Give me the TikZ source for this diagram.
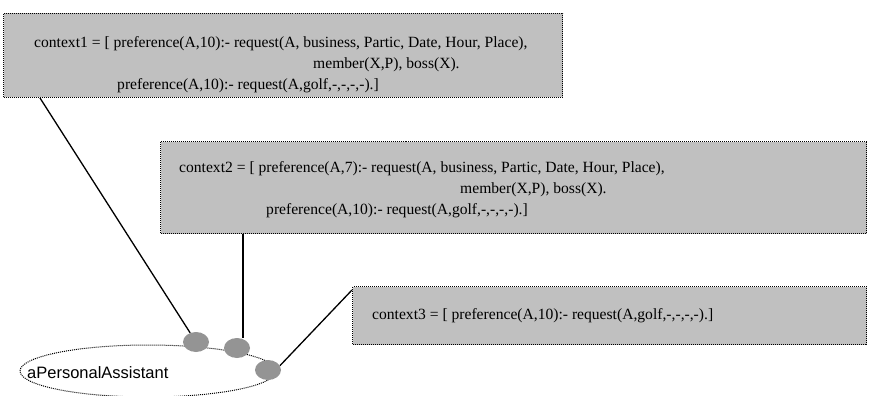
\documentclass[tikz,border=0pt]{standalone}
\usepackage{fontspec}
\setmainfont{Liberation Serif}
\newfontfamily\labelfont{Liberation Sans}
\usetikzlibrary{calc,shapes.geometric}
\definecolor{ctxgray}{RGB}{192,192,192}
\definecolor{dotgray}{RGB}{148,148,148}
\tikzset{
  ctxbox/.style={draw=black, line width=1pt, dash pattern=on 1pt off 1pt, fill=ctxgray, inner sep=0pt, anchor=north west},
  ctxtext/.style={anchor=base west, inner sep=0pt, font=\fontsize{15.6}{21}\selectfont},
  agent/.style={draw=black, line width=1pt, dash pattern=on 1pt off 1pt, ellipse, inner sep=0pt},
  facet/.style={fill=dotgray, ellipse, minimum width=26, minimum height=20, inner sep=0pt},
  link/.style={black, line width=1.3pt},
}

\begin{document}
\begin{tikzpicture}[x=1pt,y=-1pt]
  \useasboundingbox (0,0) rectangle (876,396);
  % context boxes
  \node[ctxbox, minimum width=559, minimum height=84] (ctx1) at (3,13) {};
  \node[ctxtext] (c1a) at (34,48) {context1 = [ preference(A,10):- request(A, business, Partic, Date, Hour, Place),};
  \node[ctxtext] (c1b) at (313,69) {member(X,P), boss(X).};
  \node[ctxtext] (c1c) at (117,90) {preference(A,10):- request(A,golf,-,-,-,-).]};
  \node[ctxbox, minimum width=706, minimum height=92] (ctx2) at (160,141) {};
  \node[ctxtext] (c2a) at (179,172) {context2 = [ preference(A,7):- request(A, business, Partic, Date, Hour, Place),};
  \node[ctxtext] (c2b) at (460,193) {member(X,P), boss(X).};
  \node[ctxtext] (c2c) at (266,214) {preference(A,10):- request(A,golf,-,-,-,-).]};
  \node[ctxbox, minimum width=514, minimum height=58] (ctx3) at (352,286) {};
  \node[ctxtext] (c3a) at (372,319) {context3 = [ preference(A,10):- request(A,golf,-,-,-,-).]};
  % the agent
  \node[agent, minimum width=256, minimum height=52] (pa) at (148,371) {};
  \node[anchor=west, inner sep=0pt, font=\labelfont\fontsize{16.5}{19}\selectfont] (palabel) at (27,373) {aPersonalAssistant};
  \node[facet] (f1) at (196,342) {};
  \node[facet] (f2) at (237,348) {};
  \node[facet] (f3) at (268,370) {};
  % links
  \coordinate (l1) at ($(ctx1.south west)+(37,0)$);
  \coordinate (l2) at ($(ctx2.south west)+(83,0)$);
  \coordinate (l3) at ($(ctx3.north west)+(0,4)$);
  \draw[link] (l1) -- (f1);
  \draw[link] (l2) -- (l2 |- f2.north);
  \draw[link] (l3) -- (f3.20);
\end{tikzpicture}
\end{document}
